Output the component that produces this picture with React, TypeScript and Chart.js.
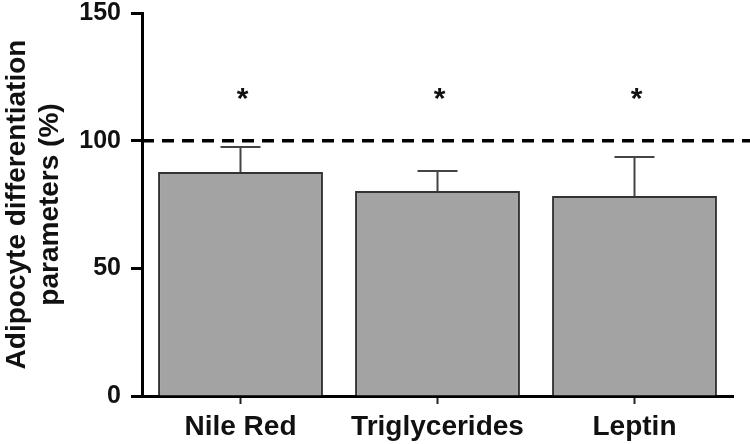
import React, { useEffect, useRef } from "react";
import { Chart, registerables } from "chart.js";

Chart.register(...registerables);

const categories = ["Nile Red", "Triglycerides", "Leptin"];
const means = [87.7, 80.3, 78.3];
const upperErrors = [9.8, 7.8, 15.3];
const significanceLevel = [117, 117, 117];
const significanceMarks = ["*", "*", "*"];
const referenceValue = 100;
const yMin = 0;
const yMax = 150;
const yStep = 50;
const yTitle = ["Adipocyte differentiation", "parameters (%)"];

const FONT = "'Liberation Sans', Arial, Helvetica, sans-serif";

const overlayPlugin = {
  id: "overlay",
  afterDatasetsDraw(chart: any) {
    const { ctx, chartArea } = chart;
    const x = chart.scales.x;
    const y = chart.scales.y;
    ctx.save();
    // reference dashed line
    const yRef = y.getPixelForValue(referenceValue);
    ctx.strokeStyle = "#000";
    ctx.lineWidth = 3.5;
    ctx.setLineDash([12, 8]);
    ctx.beginPath();
    ctx.moveTo(chartArea.left, yRef);
    ctx.lineTo(chart.width, yRef);
    ctx.stroke();
    ctx.setLineDash([]);
    // error bars
    ctx.strokeStyle = "#444";
    ctx.lineWidth = 2;
    means.forEach((m, i) => {
      const cx = x.getPixelForValue(i);
      const y0 = y.getPixelForValue(m);
      const y1 = y.getPixelForValue(m + upperErrors[i]);
      ctx.beginPath();
      ctx.moveTo(cx, y0);
      ctx.lineTo(cx, y1);
      ctx.moveTo(cx - 20, y1);
      ctx.lineTo(cx + 20, y1);
      ctx.stroke();
    });
    // significance marks
    ctx.fillStyle = "#111";
    ctx.font = `bold 30px ${FONT}`;
    ctx.textAlign = "center";
    ctx.textBaseline = "alphabetic";
    significanceMarks.forEach((s, i) => {
      const cx = x.getPixelForValue(i) + 2;
      const cy = y.getPixelForValue(significanceLevel[i]);
      ctx.fillText(s, cx, cy + 11);
    });
    ctx.restore();
  },
};

export default function App() {
  const ref = useRef<HTMLCanvasElement | null>(null);
  useEffect(() => {
    if (!ref.current) return;
    const chart = new Chart(ref.current, {
      type: "bar",
      data: {
        labels: categories,
        datasets: [
          {
            data: means,
            backgroundColor: "#a3a3a3",
            borderColor: "#333",
            borderWidth: 2,
            barPercentage: 0.837,
            categoryPercentage: 1,
          },
        ],
      },
      options: {
        responsive: false,
        animation: false,
        layout: { padding: { top: 13, right: 17, left: 0, bottom: 0 } },
        plugins: {
          legend: { display: false },
          tooltip: { enabled: false },
        },
        scales: {
          x: {
            grid: {
              display: true,
              offset: false,
              drawOnChartArea: false,
              drawTicks: true,
              tickLength: 8,
              tickWidth: 2,
              tickColor: "#222",
            },
            border: { display: true, color: "#000", width: 3 },
            ticks: {
              color: "#111",
              padding: 6,
              font: { family: FONT, size: 28, weight: "bold" },
              maxRotation: 0,
            },
            afterFit: (s: any) => {
              s.height = 48;
              s.paddingLeft = 0;
              s.paddingRight = 0;
            },
          },
          y: {
            min: yMin,
            max: yMax,
            grid: {
              display: true,
              drawOnChartArea: false,
              drawTicks: true,
              tickLength: 11,
              tickWidth: 3,
              tickColor: "#000",
            },
            border: { display: true, color: "#000", width: 3 },
            ticks: {
              stepSize: yStep,
              color: "#111",
              padding: 10,
              font: { family: FONT, size: 25, weight: "bold", lineHeight: 1 },
            },
            title: {
              display: true,
              text: yTitle,
              color: "#111",
              padding: { top: 0, bottom: 0 },
              font: { family: FONT, size: 28, weight: "bold", lineHeight: 1.2 },
            },
            afterFit: (s: any) => {
              s.width = 142;
              s.paddingTop = 0;
              s.paddingBottom = 0;
            },
          },
        },
      },
      plugins: [overlayPlugin],
    });
    return () => chart.destroy();
  }, []);
  return (
    <div style={{ position: "fixed", left: 0, top: 0, width: 750, height: 444, background: "#fff" }}>
      <canvas ref={ref} width={750} height={444} style={{ display: "block" }} />
    </div>
  );
}
